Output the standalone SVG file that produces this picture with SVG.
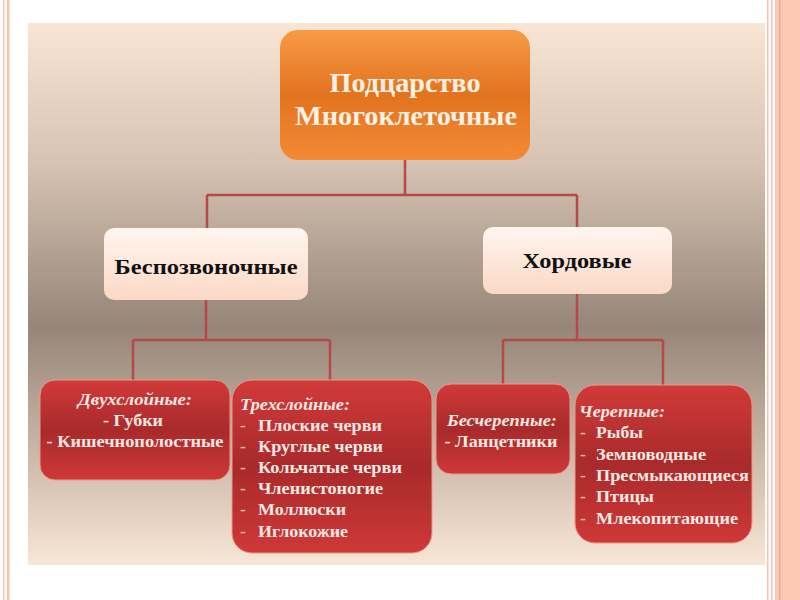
<svg xmlns="http://www.w3.org/2000/svg" width="800" height="600" viewBox="0 0 800 600">
<defs>
<linearGradient id="bg" x1="0" y1="0" x2="0" y2="1">
<stop offset="0" stop-color="#f8e5d4"/>
<stop offset="0.25" stop-color="#d8c4b4"/>
<stop offset="0.56" stop-color="#958679"/>
<stop offset="0.8" stop-color="#cdb9a9"/>
<stop offset="1" stop-color="#f8e6d6"/>
</linearGradient>
<linearGradient id="org" x1="0" y1="0" x2="0" y2="1">
<stop offset="0" stop-color="#f89a45"/>
<stop offset="0.5" stop-color="#e2731f"/>
<stop offset="1" stop-color="#f48a35"/>
</linearGradient>
<linearGradient id="pch" x1="0" y1="0" x2="0" y2="1">
<stop offset="0" stop-color="#fff6ef"/>
<stop offset="1" stop-color="#fbd8c6"/>
</linearGradient>
<linearGradient id="red" x1="0" y1="0" x2="0" y2="1">
<stop offset="0" stop-color="#d23a3a"/>
<stop offset="0.5" stop-color="#a82a2b"/>
<stop offset="1" stop-color="#cf3838"/>
</linearGradient>
</defs>
<style>
.ln{fill:none;stroke:#b8474a;stroke-width:2.5}
.t1{font-family:"Liberation Serif",serif;font-weight:bold;font-size:27px;fill:#fdf1e4;text-anchor:middle}
.t2{font-family:"Liberation Serif",serif;font-weight:bold;font-size:22px;fill:#111;text-anchor:middle}
.t3{font-family:"Liberation Serif",serif;font-weight:bold;font-size:17.5px;fill:#fbe9e2}
.it{font-style:italic}
.c{text-anchor:middle}
.d{fill:#e8b8a0}
.redbox{fill:url(#red);stroke:#e89a8a;stroke-width:1}
</style>
<rect width="800" height="600" fill="#fff"/>
<rect x="3" y="0" width="1.5" height="600" fill="#f9c0ac"/>
<rect x="7" y="0" width="2.5" height="600" fill="#f9c0ac"/>
<rect x="767" y="0" width="1.5" height="600" fill="#f9c0ac"/>
<rect x="771" y="0" width="1.5" height="600" fill="#f9c0ac"/>
<rect x="775" y="0" width="25" height="600" fill="#fcc9b5"/>
<rect x="779" y="0" width="1.5" height="600" fill="#f6a88e"/>
<rect x="28" y="23" width="737" height="542" fill="url(#bg)"/>

<g id="connectors">
<path class="ln" d="M405 160V195M207 195H577M207 195V228M577 195V227"/>
<path class="ln" d="M206 300V340M133 340H330M133 340V380M330 340V380"/>
<path class="ln" d="M577 294V340M503 340H663M503 340V384M663 340V385"/>
</g>

<g id="root">
<rect x="280" y="30" width="250" height="130" rx="18" fill="url(#org)"/>
<text class="t1" x="405" y="92" textLength="151" lengthAdjust="spacingAndGlyphs">Подцарство</text>
<text class="t1" x="406" y="125" textLength="222" lengthAdjust="spacingAndGlyphs">Многоклеточные</text>
</g>

<g id="invert">
<rect x="104" y="228" width="204" height="72" rx="10" fill="url(#pch)"/>
<text class="t2" x="206" y="274" textLength="183" lengthAdjust="spacingAndGlyphs">Беспозвоночные</text>
</g>

<g id="chord">
<rect x="483" y="227" width="189" height="67" rx="10" fill="url(#pch)"/>
<text class="t2" x="577" y="268" textLength="109" lengthAdjust="spacingAndGlyphs">Хордовые</text>
</g>

<g id="two">
<rect class="redbox" x="40" y="380" width="190" height="100" rx="15"/>
<text class="t3 it c" x="135" y="405" textLength="114" lengthAdjust="spacingAndGlyphs">Двухслойные:</text>
<text class="t3 c" x="133" y="426" textLength="60" lengthAdjust="spacingAndGlyphs">- Губки</text>
<text class="t3 c" x="135" y="447" textLength="177" lengthAdjust="spacingAndGlyphs">- Кишечнополостные</text>
</g>

<g id="three">
<rect class="redbox" x="232" y="380" width="200" height="173" rx="20"/>
<text class="t3 it" x="240" y="410" textLength="110" lengthAdjust="spacingAndGlyphs">Трехслойные:</text>
<text class="t3 d" x="240" y="431">-</text><text class="t3" x="258" y="431" textLength="124" lengthAdjust="spacingAndGlyphs">Плоские черви</text>
<text class="t3 d" x="240" y="452">-</text><text class="t3" x="258" y="452" textLength="125" lengthAdjust="spacingAndGlyphs">Круглые черви</text>
<text class="t3 d" x="240" y="473">-</text><text class="t3" x="258" y="473" textLength="144" lengthAdjust="spacingAndGlyphs">Кольчатые черви</text>
<text class="t3 d" x="240" y="494">-</text><text class="t3" x="258" y="494" textLength="125" lengthAdjust="spacingAndGlyphs">Членистоногие</text>
<text class="t3 d" x="240" y="515">-</text><text class="t3" x="258" y="515" textLength="88" lengthAdjust="spacingAndGlyphs">Моллюски</text>
<text class="t3 d" x="240" y="537">-</text><text class="t3" x="258" y="537" textLength="90" lengthAdjust="spacingAndGlyphs">Иглокожие</text>
</g>

<g id="acran">
<rect class="redbox" x="436" y="384" width="134" height="90" rx="15"/>
<text class="t3 it c" x="502" y="426" textLength="110" lengthAdjust="spacingAndGlyphs">Бесчерепные:</text>
<text class="t3 c" x="501" y="447" textLength="113" lengthAdjust="spacingAndGlyphs">- Ланцетники</text>
</g>

<g id="cran">
<rect class="redbox" x="575" y="385" width="177" height="158" rx="20"/>
<text class="t3 it" x="579" y="417" textLength="86" lengthAdjust="spacingAndGlyphs">Черепные:</text>
<text class="t3 d" x="580" y="438">-</text><text class="t3" x="596" y="438" textLength="47" lengthAdjust="spacingAndGlyphs">Рыбы</text>
<text class="t3 d" x="580" y="460">-</text><text class="t3" x="596" y="460" textLength="110" lengthAdjust="spacingAndGlyphs">Земноводные</text>
<text class="t3 d" x="580" y="481">-</text><text class="t3" x="596" y="481" textLength="153" lengthAdjust="spacingAndGlyphs">Пресмыкающиеся</text>
<text class="t3 d" x="580" y="502">-</text><text class="t3" x="596" y="502" textLength="58" lengthAdjust="spacingAndGlyphs">Птицы</text>
<text class="t3 d" x="580" y="524">-</text><text class="t3" x="596" y="524" textLength="142" lengthAdjust="spacingAndGlyphs">Млекопитающие</text>
</g>
</svg>
